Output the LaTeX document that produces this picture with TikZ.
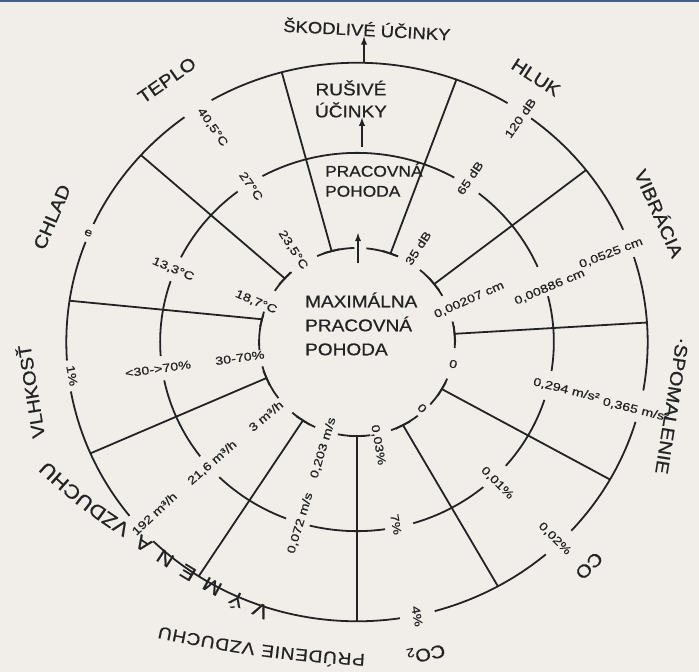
\documentclass[tikz,border=0pt]{standalone}
\usepackage{fontspec}
\setmainfont{Liberation Sans}
\newfontfamily\catfont{Liberation Sans}[FakeStretch=1.12, FakeBold=0.7]
\newfontfamily\valfont{Liberation Sans}[FakeStretch=1.25, FakeBold=0.6]
\usetikzlibrary{decorations.text}
\definecolor{paper}{RGB}{241,238,234}
\definecolor{ink}{RGB}{35,35,35}
\definecolor{rim}{RGB}{74,92,128}
\newcommand{\catsz}{\catfont\fontsize{18}{21}\selectfont}
\newcommand{\arcsz}{\catfont\fontsize{19.5}{22}\selectfont}
\newcommand{\lowsz}{\catfont\fontsize{17}{20}\selectfont}

\begin{document}
\begin{tikzpicture}[
    x=1.02pt, y=0.98pt,
    >=latex,
    ring/.style={draw=ink, line width=1.8pt},
    spoke/.style={draw=ink, line width=1.8pt},
    arr/.style={->, draw=ink, line width=1.8pt},
    cat/.style={text=ink, font=\catsz, inner sep=0pt},
    val/.style={text=ink, font=\valfont\fontsize{11.5}{13}\selectfont, inner sep=0pt},
    head/.style={text=ink, font=\catfont\fontsize{17}{24}\selectfont, align=left, inner sep=0pt, anchor=west},
    bend/.style={decorate, decoration={text along path, text={#1}, text align={fit to path}, text color=ink}}
]

    \useasboundingbox (-350,-336.7) rectangle (335.3,349);
    \fill [paper] (-350,-336.7) rectangle (335.3,349);
    \fill [rim] (-350,346.6) rectangle (335.3,349);

    \foreach \s/\e in {23.7/53.2, 58.8/120, 126.4/155, 159/183.8, 190.2/218.5, 225.5/278.5, 285.5/310.5, 317.5/343.4, 350/377.7}
        \draw [ring] (\s:285) arc [start angle=\s, end angle=\e, radius=285];
    \foreach \s/\e in {23.4/51.8, 60.4/118.7, 127.3/153.4, 161.2/184.3, 191.7/217.2, 225.6/248.9, 256.1/278.2, 286.6/309.9, 319.1/342.2, 351.2/374}
        \draw [ring] (\s:193) arc [start angle=\s, end angle=\e, radius=193];
    \foreach \s/\e in {29.4/50, 66/84.5, 91.5/114, 132/147, 163/185, 195/216.6, 228.6/244.7, 258.7/277.8, 290.4/308.4, 318.4/337.1, 356.3/372.6}
        \draw [ring] (\s:96) arc [start angle=\s, end angle=\e, radius=96];

    \foreach \o/\i in {105/105, 70/70, 38/38, 4/5, -29.5/-30, -61/-62, -90/-90, -123/-123.5, -156.5/-157.5, 171.5/166, 138/137.5}
        \draw [spoke] (\o:285) -- (\i:96) ++({\i+90}:8) -- ++({\i-90}:16);

    \node [cat, rotate=-3, font=\catfont\fontsize{16.5}{20}\selectfont] (S) at (9.8,319.4) {ŠKODLIVÉ ÚČINKY};
    \node [head, anchor=center, align=center, font=\catfont\fontsize{17}{22}\selectfont] (R) at (-5.9,248) {RUŠIVÉ\\ÚČINKY};
    \node [head, font=\catfont\fontsize{15.5}{20}\selectfont] (P) at (-31.4,165.3) {PRACOVNÁ\\POHODA};
    \node [head] (M) at (-51,18.4) {MAXIMÁLNA\\PRACOVNÁ\\POHODA};

    \coordinate (a1) at (6.9,285.7);
    \coordinate (a2) at (4.9,199);
    \coordinate (a3) at (1,80.6);
    \coordinate (a4) at (1,111.2);
    \draw [arr] (a1) -- (a1 |- S.south);
    \draw [arr] (a2) -- (a2 |- R.south);
    \draw [arr] (a3) -- (a4);

    \node [cat, rotate=35] (K1) at (124.9:325.8) {TEPLO};
    \node [cat, rotate=67] (K2) at (156.9:325) {CHLAD};
    \node [cat, rotate=99] (K3) at (189:324.6) {VLHKOSŤ};
    \node [cat, rotate=-33] (K4) at (57:322) {HLUK};
    \node [cat, rotate=-66] (K5) at (23.9:325) {VIBRÁCIA};
    \node [cat, rotate=-99] (K6) at (-11.9:315.7) {·SPOMALENIE};
    \node [cat, rotate=-135] (K7) at (-45.1:322.5) {CO};
    \node [cat, rotate=-168] (K8) at (-78:324.5) {CO\textsubscript{2}};
    \coordinate (w1) at (-85.3,-270.8);
    \coordinate (w2) at (-211.8,-195.9);
    \coordinate (w3) at (-221.6,-187.8);
    \coordinate (w4) at (-300.9,-123.8);
    \coordinate (w5) at (8,-318.5);
    \coordinate (w6) at (-193.5,-290.2);
    \path [bend={|\arcsz|VÝMENA}] (w1) to [bend left=5] (w2);
    \path [bend={|\arcsz|VZDUCHU}] (w3) to [bend left=5] (w4);
    \path [bend={|\lowsz|PRÚDENIE VZDUCHU}] (w5) to [bend left=4] (w6);

    \node [val, rotate=-55] (T1) at (122.9:261) {40,5°C};
    \node [val, rotate=-55] (T2) at (123.1:190) {27°C};
    \node [val, rotate=-57] (T3) at (123.7:113) {23,5°C};
    \node [val, rotate=-23] (C1) at (157.1:286) {e};
    \node [val, rotate=-23] (C2) at (157.6:195) {13,3°C};
    \node [val, rotate=-23] (C3) at (157.6:107) {18,7°C};
    \node [val, rotate=-80] (H1) at (187:281.5) {1\%};
    \node [val, rotate=8] (H2) at (188:197) {<30->70\%};
    \node [val, rotate=8] (H3) at (188:116) {30-70\%};
    \node [val, rotate=43] (E1) at (221.4:265) {192 m³/h};
    \node [val, rotate=41] (E2) at (221:188) {21,6 m³/h};
    \node [val, rotate=40] (E3) at (220.2:117) {3 m³/h};
    \node [val, rotate=73] (F1) at (-106.8:193) {0,072 m/s};
    \node [val, rotate=73] (F2) at (-107.1:113) {0,203 m/s};
    \node [val, rotate=-80] (D1) at (-78.1:286) {4\%};
    \node [val, rotate=-80] (D2) at (-78.4:190) {7\%};
    \node [val, rotate=-80] (D3) at (-78.9:107) {0,03\%};
    \node [val, rotate=-45] (O1) at (-46:279) {0,02\%};
    \node [val, rotate=-45] (O2) at (-46.3:199) {0,01\%};
    \node [val, rotate=-45] (O3) at (-46.6:93) {0};
    \node [val, rotate=-14] (Z1) at (-14.2:282) {0,365 m/s²};
    \node [val, rotate=-14] (Z2) at (-13.4:211) {0,294 m/s²};
    \node [val, rotate=-13] (Z3) at (-13.4:97) {0};
    \node [val, rotate=21] (B1) at (20:265) {0,0525 cm};
    \node [val, rotate=23] (B2) at (16.5:197) {0,00886 cm};
    \node [val, rotate=24] (B3) at (21.3:118) {0,00207 cm};
    \node [val, rotate=55] (L1) at (55:279) {120 dB};
    \node [val, rotate=56] (L2) at (56.5:200.7) {65 dB};
    \node [val, rotate=57] (L3) at (58:113) {35 dB};

\end{tikzpicture}
\end{document}
